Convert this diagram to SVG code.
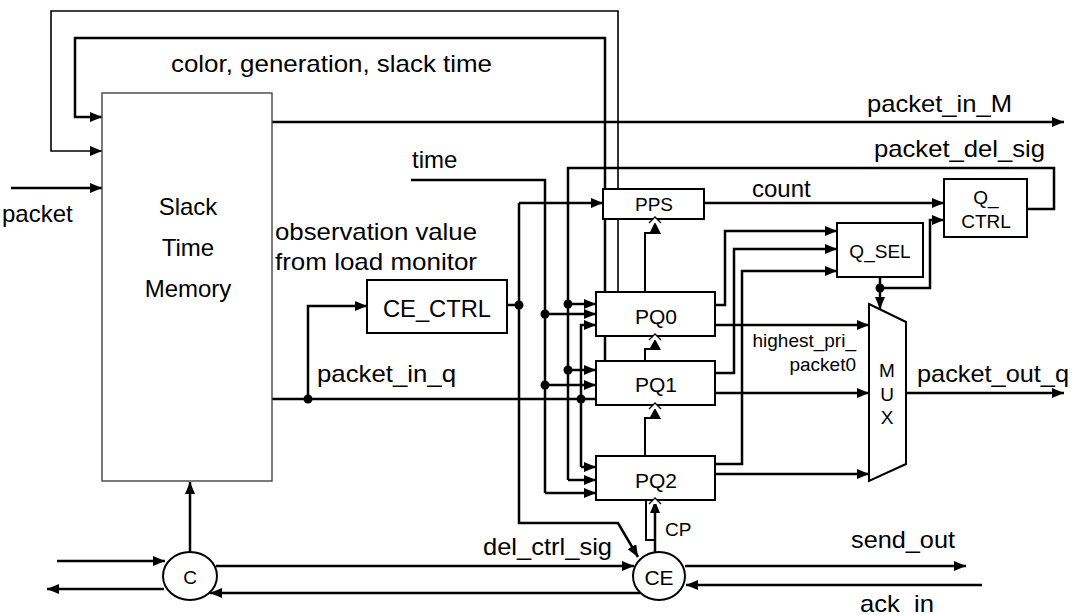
<svg xmlns="http://www.w3.org/2000/svg" width="1077" height="615" viewBox="0 0 1077 615">
  <style>
    .w { fill: none; stroke: #000; stroke-width: 2.5; stroke-linejoin: miter; }
    .t { fill: none; stroke: #000; stroke-width: 2; }
    .h { fill: none; stroke: #000; stroke-width: 1.6; }
    .a { marker-end: url(#arr); }
    .box { fill: #fff; stroke: #000; stroke-width: 2; }
    .mem { fill: #fff; stroke: #444; stroke-width: 1.4; }
    .dot { fill: #000; }
    text { font-family: "Liberation Sans", Arial, sans-serif; fill: #000; }
    .l { font-size: 24px; }
    .m { font-size: 21px; }
    .s { font-size: 19px; }
    .c { text-anchor: middle; }
    .r { text-anchor: end; }
  </style>
  <defs>
    <marker id="arr" markerUnits="userSpaceOnUse" markerWidth="12" markerHeight="10" viewBox="0 0 12 10" refX="12" refY="5" orient="auto">
      <path d="M0,0 L12,5 L0,10 z" fill="#000"/>
    </marker>
  </defs>

  <g id="connectors">
    <!-- feedback loops over the memory -->
    <path class="h a" d="M618,292 V11 H51 V151 H102"/>
    <path class="w a" d="M605,361 V38 H75 V117 H102"/>
    <!-- packet input -->
    <path class="w a" d="M11,188 H102"/>
    <!-- packet_in_M -->
    <path class="w a" d="M272,122 H1064"/>
    <!-- packet_in_q bus -->
    <path class="w" d="M272,399 H596"/>
    <path class="w a" d="M308,399 V306 H367"/>
    <!-- CE_CTRL output / del_ctrl_sig -->
    <path class="w" d="M507,305 H519"/>
    <path class="w a" d="M519,203 H603"/>
    <path class="w a" d="M519,203 V523 H618 L638,557"/>
    <!-- time bus -->
    <path class="w" d="M411,180 H545 V493"/>
    <path class="w a" d="M545,314 H596"/>
    <path class="w a" d="M545,385 H596"/>
    <path class="w a" d="M545,493 H596"/>
    <!-- packet_del_sig bus -->
    <path class="w" d="M1027,209 H1054 V168 H568 V480"/>
    <path class="w a" d="M568,304 H596"/>
    <path class="w a" d="M568,370 H596"/>
    <path class="w a" d="M568,480 H596"/>
    <!-- packet_in_q branch to PQ0 / PQ2 -->
    <path class="w a" d="M581,467 V325 H596"/>
    <path class="w a" d="M581,467 H596"/>
    <!-- queue chain (clocked shift) -->
    <path class="t" d="M645,292 V233 H651"/>
    <path class="t" d="M645,361 V349 H651"/>
    <path class="t" d="M645,456 V418 H651"/>
    <!-- CP from CE -->
    <path class="w a" d="M655,552 V501"/>
    <path class="t" d="M646,500 V540 H655"/>
    <!-- count -->
    <path class="w a" d="M704,203 H944"/>
    <!-- Q_SEL inputs -->
    <path class="w a" d="M715,305 H725 V231 H837"/>
    <path class="w a" d="M715,373 H734 V249 H837"/>
    <path class="w a" d="M715,464 H742 V271 H837"/>
    <!-- Q_SEL output -->
    <path class="w a" d="M880,277 V309"/>
    <path class="w a" d="M880,288 H930 V220 H944"/>
    <!-- MUX inputs / output -->
    <path class="w a" d="M715,325 H869"/>
    <path class="w a" d="M715,393 H869"/>
    <path class="w a" d="M715,474 H869"/>
    <path class="w a" d="M906,393 H1064"/>
    <!-- handshake lines -->
    <path class="w a" d="M190,552 V482"/>
    <path class="w a" d="M57,561 H165"/>
    <path class="w a" d="M164,589 H47"/>
    <path class="w a" d="M216,566 H634"/>
    <path class="w a" d="M640,593 H210"/>
    <path class="w a" d="M685,566 H966"/>
    <path class="w a" d="M982,585 H686"/>
    <!-- junction dots -->
    <circle class="dot" cx="308" cy="399" r="4.5"/>
    <circle class="dot" cx="519" cy="305" r="4.5"/>
    <circle class="dot" cx="545" cy="314" r="4.5"/>
    <circle class="dot" cx="568" cy="304" r="4.5"/>
    <circle class="dot" cx="568" cy="370" r="4.5"/>
    <circle class="dot" cx="545" cy="385" r="4.5"/>
    <circle class="dot" cx="581" cy="399" r="4.5"/>
    <circle class="dot" cx="880" cy="288" r="4.5"/>
  </g>

  <g id="memory">
    <rect class="mem" x="102" y="93" width="170" height="388"/>
    <text class="l c" x="188" y="215">Slack</text>
    <text class="l c" x="188" y="256">Time</text>
    <text class="l c" x="188" y="297">Memory</text>
  </g>
  <g id="ce_ctrl">
    <rect class="box" x="367" y="280" width="140" height="53"/>
    <text class="l" x="383" y="317" textLength="108" lengthAdjust="spacingAndGlyphs">CE_CTRL</text>
  </g>
  <g id="pps">
    <rect class="box" x="603" y="189" width="101" height="30"/>
    <text class="s c" x="654" y="211">PPS</text>
  </g>
  <g id="pq0">
    <rect class="box" x="596" y="292" width="119" height="44"/>
    <text class="m c" x="656" y="324">PQ0</text>
  </g>
  <g id="pq1">
    <rect class="box" x="596" y="361" width="119" height="44"/>
    <text class="m c" x="656" y="392">PQ1</text>
  </g>
  <g id="pq2">
    <rect class="box" x="596" y="456" width="119" height="44"/>
    <text class="m c" x="656" y="488">PQ2</text>
  </g>
  <g id="q_sel">
    <rect class="box" x="837" y="223" width="86" height="54"/>
    <text class="s c" x="880" y="258">Q_SEL</text>
  </g>
  <g id="q_ctrl">
    <rect class="box" x="944" y="179" width="83" height="58"/>
    <text class="s c" x="986" y="204">Q_</text>
    <text class="s c" x="986" y="228">CTRL</text>
  </g>
  <g id="mux">
    <path class="box" d="M869,304 L906,322 L906,464 L869,481 Z"/>
    <text class="s c" x="887" y="377">M</text>
    <text class="s c" x="887" y="401">U</text>
    <text class="s c" x="887" y="424">X</text>
  </g>
  <g id="c">
    <ellipse class="box" cx="190" cy="576" rx="27" ry="24"/>
    <text class="s c" x="190" y="584">C</text>
  </g>
  <g id="ce">
    <ellipse class="box" cx="659" cy="576" rx="26" ry="24"/>
    <text class="m c" x="659" y="585">CE</text>
  </g>

  <g id="clock-inputs">
    <polygon points="649,234 661,234 655,222" fill="#000"/>
    <path d="M649,223 L655,217 L661,223" fill="#fff" stroke="#000" stroke-width="1.3"/>
    <polygon points="649,350 661,350 655,339" fill="#000"/>
    <path d="M649,340 L655,334 L661,340" fill="#fff" stroke="#000" stroke-width="1.3"/>
    <polygon points="649,419 661,419 655,408" fill="#000"/>
    <path d="M649,409 L655,403 L661,409" fill="#fff" stroke="#000" stroke-width="1.3"/>
    <path d="M649,504 L655,498 L661,504" fill="#fff" stroke="#000" stroke-width="1.3"/>
  </g>

  <g id="labels">
    <text class="l" x="171" y="72" textLength="321" lengthAdjust="spacingAndGlyphs">color, generation, slack time</text>
    <text class="l" x="867" y="112" textLength="145" lengthAdjust="spacingAndGlyphs">packet_in_M</text>
    <text class="l" x="874" y="157" textLength="171" lengthAdjust="spacingAndGlyphs">packet_del_sig</text>
    <text class="l" x="412" y="168">time</text>
    <text class="l" x="752" y="197">count</text>
    <text class="l" x="2" y="222">packet</text>
    <text class="l" x="275" y="240" textLength="202" lengthAdjust="spacingAndGlyphs">observation value</text>
    <text class="l" x="275" y="270" textLength="202" lengthAdjust="spacingAndGlyphs">from load monitor</text>
    <text class="l" x="317" y="382" textLength="139" lengthAdjust="spacingAndGlyphs">packet_in_q</text>
    <text class="s r" x="856" y="347">highest_pri_</text>
    <text class="s r" x="856" y="371">packet0</text>
    <text class="l" x="917" y="382" textLength="152" lengthAdjust="spacingAndGlyphs">packet_out_q</text>
    <text class="l" x="483" y="555" textLength="129" lengthAdjust="spacingAndGlyphs">del_ctrl_sig</text>
    <text class="s" x="665" y="536">CP</text>
    <text class="l" x="851" y="548" textLength="104" lengthAdjust="spacingAndGlyphs">send_out</text>
    <text class="l" x="860" y="612" textLength="74" lengthAdjust="spacingAndGlyphs">ack_in</text>
  </g>
</svg>
